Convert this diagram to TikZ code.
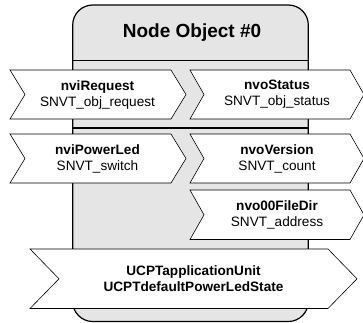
\documentclass[tikz,border=0pt]{standalone}
\usepackage{fontspec}
\setmainfont{Liberation Sans}
\usetikzlibrary{positioning}

\tikzset{
  objbox/.style={draw=black, line width=1.2pt, fill=black!10, rounded corners=20pt},
  sepline/.style={draw=black, line width=1.2pt},
  nvshape/.style={draw=black, line width=0.6pt, fill=white},
  nvlabel/.style={align=center, inner sep=0pt, font=\fontsize{13.6}{16}\selectfont},
  objtitle/.style={inner sep=0pt, font=\fontsize{19}{22}\selectfont\bfseries}
}

\begin{document}
\begin{tikzpicture}[x=1pt,y=-1pt]
        \useasboundingbox (0,0) rectangle (363,322);
        \draw[objbox] (72.7,5) rectangle (308.3,321.5);
        \node[objtitle] (title) at (192,33) {Node Object \#0};
        \draw[sepline] (72.7,60.5) -- (308.3,60.5);
        \draw[sepline] (72.7,128) -- (308.3,128);
        % inputs
        \draw[nvshape] (10,70) -- (171,70) -- (186,94.5) -- (171,119) -- (10,119) -- (25,94.5) -- cycle;
        \node[nvlabel] (request) at (97.5,94.5) {\textbf{nviRequest}\\SNVT\_obj\_request};
        \draw[nvshape] (10,134) -- (171,134) -- (186,158.5) -- (171,183) -- (10,183) -- (25,158.5) -- cycle;
        \node[nvlabel] (powerled) at (97.5,158.5) {\textbf{nviPowerLed}\\SNVT\_switch};
        % outputs
        \draw[nvshape] (190,70) -- (350,70) -- (364,94.5) -- (350,119) -- (190,119) -- (204,94.5) -- cycle;
        \node[nvlabel] (status) at (277,94.5) {\textbf{nvoStatus}\\SNVT\_obj\_status};
        \draw[nvshape] (190,134) -- (350,134) -- (364,158.5) -- (350,183) -- (190,183) -- (204,158.5) -- cycle;
        \node[nvlabel] (version) at (277,158.5) {\textbf{nvoVersion}\\SNVT\_count};
        \draw[nvshape] (190,190) -- (350,190) -- (364,214.8) -- (350,239.5) -- (190,239.5) -- (204,214.8) -- cycle;
        \node[nvlabel] (filedir) at (277,214.8) {\textbf{nvo00FileDir}\\SNVT\_address};
        % config properties
        \draw[nvshape] (30,249) -- (328,249) -- (357,278.8) -- (328,308.5) -- (30,308.5) -- (59,278.8) -- cycle;
        \node[nvlabel, font=\fontsize{13.6}{16}\selectfont\bfseries] (ucpt) at (193.5,278.8) {UCPTapplicationUnit\\UCPTdefaultPowerLedState};
    \end{tikzpicture}
\end{document}
